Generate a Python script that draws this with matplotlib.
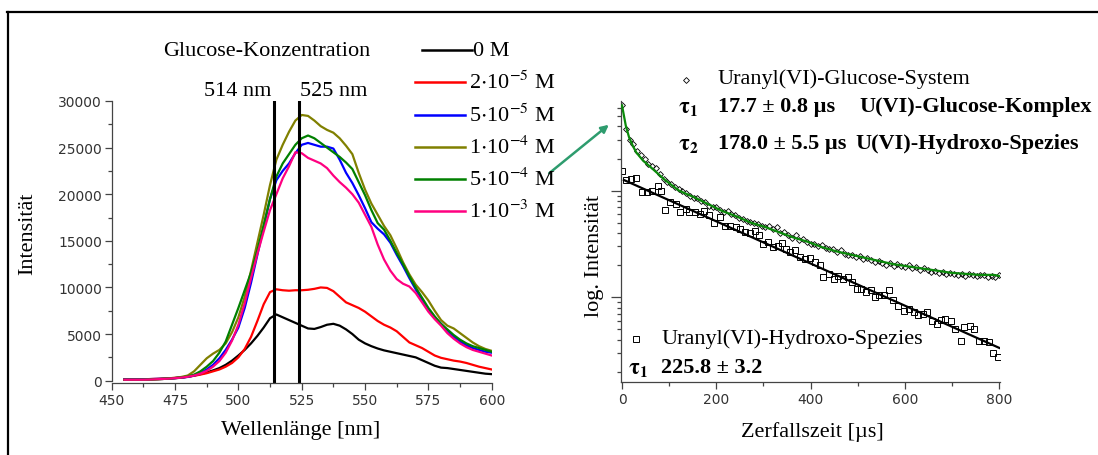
import numpy as np
import matplotlib
matplotlib.use("Agg")
import matplotlib.pyplot as plt
from matplotlib.lines import Line2D
from matplotlib.patches import FancyArrowPatch
from matplotlib.ticker import MultipleLocator, LogLocator, NullFormatter

plt.rcParams['font.family'] = ['Liberation Serif', 'DejaVu Serif']
plt.rcParams['mathtext.fontset'] = 'stix'

# ---- emission spectra (left) ----
wl = [455, 457.5, 460, 462.5, 465, 467.5, 470, 472.5, 475, 477.5,
      480, 482.5, 485, 487.5, 490, 492.5, 495, 497.5, 500, 502.5,
      505, 507.5, 510, 512.5, 515, 517.5, 520, 522.5, 525, 527.5,
      530, 532.5, 535, 537.5, 540, 542.5, 545, 547.5, 550, 552.5,
      555, 557.5, 560, 562.5, 565, 567.5, 570, 572.5, 575, 577.5,
      580, 582.5, 585, 587.5, 590, 592.5, 595, 597.5, 600]

i_0M = [100, 100, 100, 100, 120, 150, 180, 220, 260, 320,
        420, 550, 700, 880, 1100, 1350, 1700, 2150, 2700, 3300,
        4000, 4800, 5700, 6700, 7100, 6800, 6500, 6200, 5900, 5600,
        5550, 5750, 6000, 6100, 5900, 5500, 5000, 4400, 4000, 3700,
        3450, 3250, 3100, 2950, 2800, 2650, 2500, 2200, 1900, 1600,
        1400, 1350, 1250, 1150, 1050, 950, 850, 750, 700]
i_2e5 = [150, 150, 150, 150, 170, 200, 230, 260, 300, 350,
         420, 520, 650, 800, 1000, 1200, 1500, 1900, 2500, 3400,
         4700, 6400, 8200, 9500, 9800, 9700, 9650, 9700, 9700, 9750,
         9850, 10000, 9950, 9600, 9000, 8400, 8100, 7800, 7400, 6900,
         6400, 6000, 5700, 5300, 4700, 4100, 3800, 3500, 3100, 2700,
         2450, 2300, 2150, 2050, 1900, 1700, 1500, 1350, 1200]
i_5e5 = [150, 150, 150, 150, 170, 190, 210, 240, 280, 330,
         400, 550, 800, 1200, 1700, 2400, 3300, 4400, 5700, 7800,
         10500, 13500, 16500, 19500, 21500, 22500, 23300, 24400, 25300, 25500,
         25300, 25100, 25100, 24900, 23700, 22300, 21200, 19900, 18500, 17000,
         16300, 15700, 14800, 13500, 12300, 11000, 9800, 8700, 7700, 6800,
         6100, 5400, 4700, 4200, 3800, 3500, 3300, 3100, 3000]
i_1e4 = [100, 100, 100, 100, 130, 160, 200, 250, 300, 400,
         550, 1000, 1700, 2400, 2900, 3300, 4000, 5200, 6800, 9000,
         11800, 14800, 17800, 21000, 23700, 25300, 26700, 27900, 28500, 28400,
         27900, 27300, 26900, 26600, 26000, 25200, 24300, 22300, 20500, 19000,
         17800, 16600, 15600, 14200, 12700, 11400, 10300, 9500, 8600, 7500,
         6500, 5900, 5600, 5100, 4600, 4100, 3700, 3400, 3200]
i_5e4 = [100, 100, 100, 100, 120, 150, 180, 230, 280, 350,
         450, 650, 1000, 1500, 2100, 3000, 4200, 6000, 7800, 9700,
         11600, 14000, 16700, 19500, 21900, 23300, 24300, 25300, 26000, 26300,
         26000, 25500, 25000, 24500, 24000, 23400, 22700, 21300, 19900, 18300,
         16900, 16200, 15000, 13700, 12500, 11200, 10000, 8900, 7800, 6900,
         6100, 5500, 4900, 4400, 4000, 3700, 3500, 3300, 3100]
i_1e3 = [100, 100, 100, 100, 120, 150, 180, 220, 270, 330,
         420, 550, 750, 1050, 1500, 2100, 3000, 4300, 6000, 8300,
         11000, 13600, 16000, 18300, 20000, 21700, 23000, 24500, 24400, 23900,
         23600, 23300, 22800, 22000, 21300, 20700, 20000, 19100, 17800, 16500,
         14600, 13000, 11800, 10900, 10400, 10100, 9400, 8400, 7400, 6600,
         5900, 5100, 4500, 4000, 3600, 3300, 3100, 2900, 2700]

spectra = [i_0M, i_2e5, i_5e5, i_1e4, i_5e4, i_1e3]
conc_labels = ['0 M', r'2$\cdot$10$^{-5}$ M', r'5$\cdot$10$^{-5}$ M',
               r'1$\cdot$10$^{-4}$ M', r'5$\cdot$10$^{-4}$ M', r'1$\cdot$10$^{-3}$ M']
colors = ['#000000', '#ff0000', '#0000ff', '#808000', '#008000', '#ff0080']
peak_lines = [514, 524]

# ---- decay (right), log10 of intensity ----
t_sys = [0, 8, 16, 24, 32, 40, 48, 56, 64, 72, 80, 88, 96, 104, 112, 120,
         128, 136, 144, 152, 160, 168, 176, 184, 192, 200, 208, 216, 224, 232,
         240, 248, 256, 264, 272, 280, 288, 296, 304, 312, 320, 328, 336, 344,
         352, 360, 368, 376, 384, 392, 400, 408, 416, 424, 432, 440, 448, 456,
         464, 472, 480, 488, 496, 504, 512, 520, 528, 536, 544, 552, 560, 568,
         576, 584, 592, 600, 608, 616, 624, 632, 640, 648, 656, 664, 672, 680,
         688, 696, 704, 712, 720, 728, 736, 744, 752, 760, 768, 776, 784, 792, 800]
log_sys = [4.80, 4.58, 4.48, 4.44, 4.37, 4.33, 4.30, 4.25, 4.23, 4.21, 4.16, 4.11,
           4.08, 4.06, 4.03, 4.02, 4.00, 3.98, 3.95, 3.93, 3.93, 3.90, 3.89, 3.86,
           3.85, 3.85, 3.82, 3.80, 3.81, 3.78, 3.77, 3.74, 3.73, 3.72, 3.71, 3.70,
           3.69, 3.67, 3.66, 3.67, 3.64, 3.66, 3.60, 3.61, 3.58, 3.56, 3.58, 3.54,
           3.55, 3.52, 3.50, 3.50, 3.48, 3.49, 3.46, 3.45, 3.45, 3.42, 3.44, 3.41,
           3.40, 3.40, 3.38, 3.39, 3.36, 3.37, 3.35, 3.33, 3.34, 3.32, 3.30, 3.32,
           3.29, 3.31, 3.29, 3.28, 3.30, 3.27, 3.28, 3.26, 3.27, 3.26, 3.24, 3.25,
           3.23, 3.24, 3.22, 3.23, 3.22, 3.21, 3.22, 3.20, 3.22, 3.21, 3.20, 3.21,
           3.21, 3.19, 3.20, 3.19, 3.21]

t_fit_sys = [0, 8, 15, 23, 30, 45, 61, 76, 91, 106, 121, 152, 182, 212, 242, 273,
             303, 333, 364, 394, 424, 455, 485, 515, 545, 576, 606, 636, 667, 697,
             727, 757, 788, 800]
log_fit_sys = [4.80, 4.61, 4.50, 4.42, 4.36, 4.28, 4.22, 4.16, 4.10, 4.05, 4.00,
               3.94, 3.875, 3.81, 3.76, 3.70, 3.66, 3.61, 3.56, 3.52, 3.47, 3.43,
               3.40, 3.37, 3.34, 3.31, 3.29, 3.27, 3.25, 3.23, 3.22, 3.21, 3.21, 3.20]

t_hyd = [0, 8, 19, 30, 42, 53, 64, 76, 82, 91, 102, 114, 123, 135, 142, 154, 165,
         173, 184, 195, 207, 218, 230, 241, 250, 260, 271, 283, 290, 299, 309, 320,
         330, 339, 348, 356, 366, 377, 389, 398, 409, 419, 427, 439, 449, 457, 468,
         480, 487, 498, 506, 517, 529, 536, 546, 555, 567, 574, 586, 597, 608, 620,
         627, 639, 646, 658, 667, 677, 686, 697, 707, 718, 726, 737, 746, 758, 767,
         779, 786, 798]
log_hyd = [4.18, 4.10, 4.11, 4.12, 3.99, 3.99, 4.00, 4.04, 4.00, 3.82, 3.89, 3.875,
           3.80, 3.83, 3.80, 3.80, 3.78, 3.81, 3.77, 3.70, 3.75, 3.67, 3.67, 3.66,
           3.64, 3.61, 3.60, 3.625, 3.58, 3.50, 3.52, 3.47, 3.48, 3.51, 3.45, 3.42,
           3.44, 3.375, 3.36, 3.37, 3.33, 3.30, 3.19, 3.22, 3.17, 3.20, 3.17, 3.19,
           3.14, 3.08, 3.08, 3.05, 3.07, 3.00, 3.02, 3.02, 3.07, 2.97, 2.92, 2.875,
           2.89, 2.86, 2.83, 2.84, 2.86, 2.78, 2.75, 2.79, 2.80, 2.78, 2.70, 2.59,
           2.72, 2.73, 2.70, 2.59, 2.59, 2.58, 2.48, 2.44]

t_fit_hyd = [4, 800]
log_fit_hyd = [4.10, 2.525]

W, H = 1098, 456
fig = plt.figure(figsize=(W / 100, H / 100), dpi=100)


def fx(px):
    return px / W


def fy(py):
    return 1 - py / H


tick_col = '#333333'

# ---------------- left panel ----------------
ax1 = fig.add_axes([fx(111.7), fy(384), (491.7 - 111.7) / W, (384 - 102) / H])
for y, c in zip(spectra, colors):
    ax1.plot(wl, y, color=c, lw=1.6)
for x in peak_lines:
    ax1.plot([x, x], [0, 30000], color='black', lw=2.2)
ax1.set_xlim(450, 600)
ax1.set_ylim(-250, 30000)
ax1.xaxis.set_major_locator(MultipleLocator(25))
ax1.xaxis.set_minor_locator(MultipleLocator(12.5))
ax1.yaxis.set_major_locator(MultipleLocator(5000))
ax1.yaxis.set_minor_locator(MultipleLocator(2500))
ax1.spines['top'].set_visible(False)
ax1.spines['right'].set_visible(False)
ax1.spines['left'].set_bounds(0, 30000)

# ---------------- right panel ----------------
ax2 = fig.add_axes([fx(620.6), fy(383), (1000.2 - 620.6) / W, (383 - 101.7) / H])
ax2.set_yscale('log')
ax2.plot(t_sys, 10 ** np.array(log_sys), ls='none', marker='D', ms=3.0,
         mfc='none', mec='black', mew=0.6, zorder=2)
ax2.plot(t_hyd, 10 ** np.array(log_hyd), ls='none', marker='s', ms=4.6,
         mfc='none', mec='black', mew=0.7, zorder=2)
ax2.plot(t_fit_sys, 10 ** np.array(log_fit_sys), color='#0a8a0a', lw=1.6, zorder=3)
ax2.plot(t_fit_hyd, 10 ** np.array(log_fit_hyd), color='black', lw=1.6, zorder=3)
ax2.set_xlim(-3, 802)
ax2.set_ylim(10 ** 2.205, 10 ** 4.844)
ax2.xaxis.set_major_locator(MultipleLocator(200))
ax2.xaxis.set_minor_locator(MultipleLocator(100))
ax2.yaxis.set_major_locator(LogLocator(base=10, numticks=10))
ax2.yaxis.set_minor_locator(LogLocator(base=10, subs=np.arange(2, 10), numticks=10))
ax2.yaxis.set_major_formatter(NullFormatter())
ax2.yaxis.set_minor_formatter(NullFormatter())
ax2.spines['top'].set_visible(False)
ax2.spines['right'].set_visible(False)

for ax in (ax1, ax2):
    for s in ('left', 'bottom'):
        ax.spines[s].set_color('#444444')
        ax.spines[s].set_linewidth(0.9)
    ax.tick_params(which='major', direction='out', length=5, width=0.9,
                   color='#444444', labelsize=10, labelcolor=tick_col,
                   labelfontfamily='DejaVu Sans', pad=2)
    ax.tick_params(which='minor', direction='out', length=3, width=0.9,
                   color='#444444')
ax2.tick_params(axis='y', which='major', length=7)

# ---------------- texts ----------------
fs = 16
fig.text(fx(28), fy(234), 'Intensität', rotation=90, ha='center', va='center', fontsize=fs)
fig.text(fx(301), fy(431), 'Wellenlänge [nm]', ha='center', va='center', fontsize=fs)
fig.text(fx(266.5), fy(51), 'Glucose-Konzentration', ha='center', va='center', fontsize=fs)
fig.text(fx(271.5), fy(91), '514 nm', ha='right', va='center', fontsize=fs)
fig.text(fx(300), fy(91), '525 nm', ha='left', va='center', fontsize=fs)

leg_y = [51, 83, 115.5, 148, 180, 212]
for k, (lab, c, yy) in enumerate(zip(conc_labels, colors, leg_y)):
    x0, x1, xt = (421.5, 471.5, 473) if k == 0 else (415, 465, 469)
    fig.add_artist(Line2D([fx(x0), fx(x1)], [fy(yy), fy(yy)], color=c, lw=1.8,
                          transform=fig.transFigure))
    fig.text(fx(xt), fy(yy), lab, ha='left', va='center', fontsize=fs)

fig.text(fx(594), fy(256), 'log. Intensität', rotation=90, ha='center', va='center', fontsize=fs)
fig.text(fx(812), fy(432), 'Zerfallszeit [µs]', ha='center', va='center', fontsize=fs)

fig.add_artist(Line2D([fx(686)], [fy(81)], marker='D', ms=3.0, mfc='none', mec='black',
                      mew=0.6, ls='none', transform=fig.transFigure))
fig.text(fx(718), fy(79), 'Uranyl(VI)-Glucose-System', ha='left', va='center', fontsize=fs)
fig.text(fx(678), fy(110), r'$\mathbf{\tau_1}$', ha='left', va='center', fontsize=fs)
fig.text(fx(718), fy(107), '17.7 ± 0.8 µs', ha='left', va='center', fontsize=fs, weight='bold')
fig.text(fx(859), fy(107), 'U(VI)-Glucose-Komplex', ha='left', va='center', fontsize=fs, weight='bold')
fig.text(fx(678), fy(147), r'$\mathbf{\tau_2}$', ha='left', va='center', fontsize=fs)
fig.text(fx(718), fy(144), '178.0 ± 5.5 µs', ha='left', va='center', fontsize=fs, weight='bold')
fig.text(fx(855), fy(144), 'U(VI)-Hydroxo-Spezies', ha='left', va='center', fontsize=fs, weight='bold')

fig.add_artist(Line2D([fx(636)], [fy(340)], marker='s', ms=4.6, mfc='none', mec='black',
                      mew=0.7, ls='none', transform=fig.transFigure))
fig.text(fx(662), fy(339), 'Uranyl(VI)-Hydroxo-Spezies', ha='left', va='center', fontsize=fs)
fig.text(fx(628), fy(371), r'$\mathbf{\tau_1}$', ha='left', va='center', fontsize=fs)
fig.text(fx(661), fy(368), '225.8 ± 3.2', ha='left', va='center', fontsize=fs, weight='bold')

# arrow and frame
fig.add_artist(FancyArrowPatch((fx(547), fy(176)), (fx(611), fy(124)),
                               transform=fig.transFigure, arrowstyle='-|>',
                               mutation_scale=11, color='#2e9c6e', lw=1.8))
fig.add_artist(Line2D([fx(7), fx(1098)], [fy(13), fy(13)], color='black', lw=1.6,
                      transform=fig.transFigure))
fig.add_artist(Line2D([fx(8), fx(8)], [fy(13), fy(456)], color='black', lw=1.6,
                      transform=fig.transFigure))

fig.savefig('out.png', dpi=100)
